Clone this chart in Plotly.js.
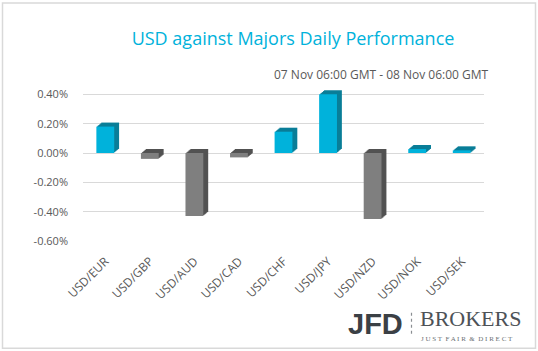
<!DOCTYPE html>
<html>
<head>
<meta charset="utf-8">
<script src="https://cdn.plot.ly/plotly-3.0.1.min.js"></script>
<style>
html,body{margin:0;padding:0;background:#fff;}
#chart{width:538px;height:351px;}
</style>
</head>
<body>
<div id="chart"></div>
<script>
// Data (daily % change)
var categories = ["USD/EUR","USD/GBP","USD/AUD","USD/CAD","USD/CHF","USD/JPY","USD/NZD","USD/NOK","USD/SEK"];
var values = [0.18, -0.04, -0.43, -0.03, 0.145, 0.40, -0.45, 0.027, 0.018];
var yTickVals = [-0.6, -0.4, -0.2, 0, 0.2, 0.4];
var yTickText = ["-0.60%","-0.40%","-0.20%","0.00%","0.20%","0.40%"];
var titleText = "USD against Majors Daily Performance";
var subtitleText = "07 Nov 06:00 GMT - 08 Nov 06:00 GMT";

var CYAN = "#00B2DB", CYAN_DARK = "#0A7E98", GRAY = "#7F7F7F", GRAY_DARK = "#525252";
var barW = 0.4;
var steps = 5, stepX = 0.022, stepY = 0.0055; // 3D extrusion look

var mainColors = values.map(function(v){ return v >= 0 ? CYAN : GRAY; });
var sideColors = values.map(function(v){ return v >= 0 ? CYAN_DARK : GRAY_DARK; });

var traces = [];
for (var k = steps; k >= 1; k--) {
  traces.push({
    type: "bar", x: categories, y: values,
    base: values.map(function(){ return k * stepY; }),
    width: barW, offset: -barW/2 + k * stepX,
    marker: {color: sideColors, line: {width: 0}},
    cliponaxis: false, hoverinfo: "skip", showlegend: false
  });
}
traces.push({
  type: "bar", x: categories, y: values,
  width: barW, offset: -barW/2,
  marker: {color: mainColors, line: {width: 0}},
  cliponaxis: false, showlegend: false
});

// plot area: y=0.45 at T, y=-0.6 at B (0.40 gridline at ~94px)
var L = 83, R = 484, T = 86.7, B = 241;
function px(x){ return (x - L) / (R - L); }
function py(y){ return (B - y) / (B - T); }

var layout = {
  width: 538, height: 351,
  margin: {l: L, r: 538 - R, t: T, b: 351 - B},
  paper_bgcolor: "#ffffff", plot_bgcolor: "#ffffff",
  barmode: "overlay",
  showlegend: false,
  font: {family: "Open Sans, Noto Sans, sans-serif", color: "#595959", size: 11},
  title: {
    text: titleText,
    font: {family: "Open Sans, Noto Sans, sans-serif", size: 18, color: "#00B2DB"},
    xref: "container", yref: "container",
    x: 293/538, xanchor: "center",
    y: 1 - 39/351, yanchor: "middle"
  },
  xaxis: {
    type: "category",
    range: [-0.5, categories.length - 0.5],
    tickangle: -45,
    showgrid: false, zeroline: false, showline: false,
    ticks: "", ticklabelstandoff: 10,
    tickfont: {size: 12, color: "#595959"}
  },
  yaxis: {
    range: [-0.6, 0.45],
    tickvals: yTickVals, ticktext: yTickText,
    showgrid: true, gridcolor: "#d9d9d9", gridwidth: 1,
    zeroline: true, zerolinecolor: "#d9d9d9", zerolinewidth: 1,
    showline: false, ticks: "", ticklabelstandoff: 14,
    tickfont: {size: 11, color: "#595959"}
  },
  annotations: [
    {text: subtitleText, xref: "paper", yref: "paper", x: px(491), y: py(74),
     xanchor: "right", yanchor: "middle", showarrow: false,
     font: {size: 12, color: "#595959", family: "Open Sans, Noto Sans, sans-serif"}},
    {text: "<b>JFD</b>", xref: "paper", yref: "paper", x: px(405), y: py(324),
     xanchor: "right", yanchor: "middle", showarrow: false,
     font: {size: 29, color: "#3b4045", family: "Liberation Sans, Arial, sans-serif"}},
    {text: "BROKERS", xref: "paper", yref: "paper", x: px(418), y: py(319),
     xanchor: "left", yanchor: "middle", showarrow: false,
     font: {size: 22, color: "#4d5257", family: "Liberation Serif, DejaVu Serif, serif"}},
    {text: "J U S T  F A I R  &amp;  D I R E C T", xref: "paper", yref: "paper", x: px(419), y: py(339),
     xanchor: "left", yanchor: "middle", showarrow: false,
     font: {size: 7, color: "#6b6f73", family: "Liberation Serif, DejaVu Serif, serif"}}
  ],
  shapes: [
    {type: "rect", xref: "paper", yref: "paper",
     x0: px(2.5), x1: px(535.5), y0: py(348.5), y1: py(2.5),
     line: {color: "#d9d9d9", width: 1.5}, fillcolor: "rgba(0,0,0,0)", layer: "above"},
    {type: "line", xref: "paper", yref: "paper",
     x0: px(411.5), x1: px(411.5), y0: py(334), y1: py(313),
     line: {color: "#8a8e92", width: 1.2, dash: "dot"}}
  ]
};

Plotly.newPlot("chart", traces, layout, {staticPlot: true, displayModeBar: false});
</script>
</body>
</html>
